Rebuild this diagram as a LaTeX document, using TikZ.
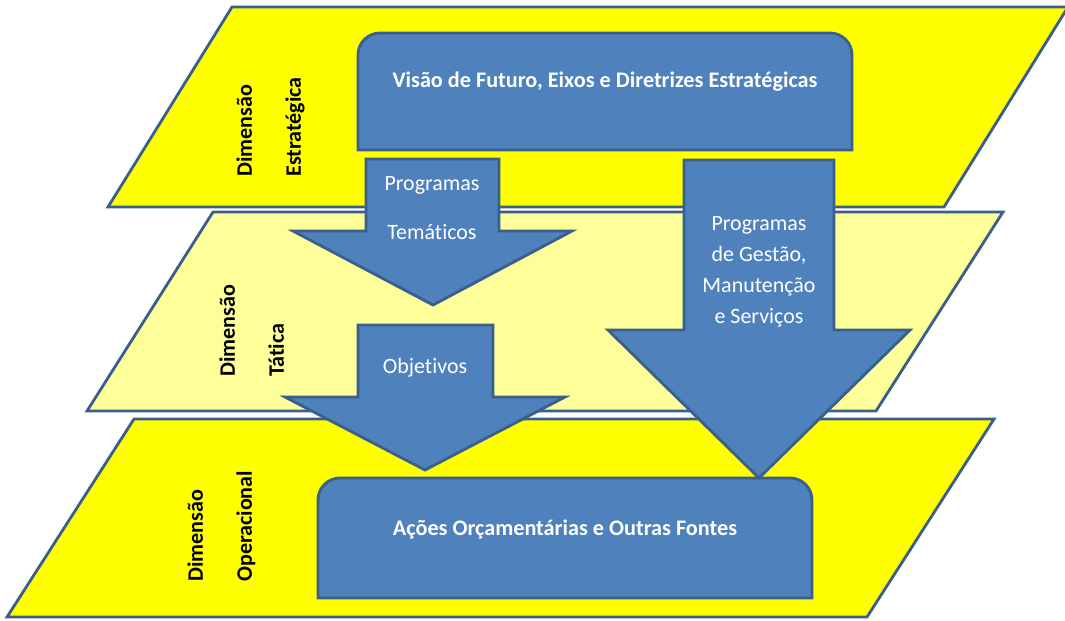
\documentclass[tikz,border=0pt]{standalone}
\usepackage{fontspec}
\setmainfont{Carlito}[Ligatures=NoCommon]
\usepackage{xcolor}
\usepackage{tikz}
\usetikzlibrary{positioning}
\definecolor{layerStrong}{HTML}{FFFF00}
\definecolor{layerPale}{HTML}{FFFF99}
\definecolor{fillBlue}{HTML}{4F81BD}
\definecolor{borderBlue}{HTML}{3A5F8C}

\begin{document}
\begin{tikzpicture}[
    x=0.025cm, y=-0.025cm,
    plane/.style={draw=borderBlue, fill=#1, line width=2pt, line join=miter},
    block/.style={draw=borderBlue, fill=fillBlue, line width=2pt},
    dimlabel/.style={rotate=90, anchor=north west, inner sep=0pt, align=left,
                     font=\fontsize{15.7}{35}\selectfont\bfseries},
    titlestyle/.style={text=white, font=\fontsize{15.8}{19}\selectfont\bfseries},
    flowtext/.style={text=white, align=center, font=\fontsize{15.6}{#1}\selectfont},
]
\useasboundingbox (0,0) rectangle (1065,620);

% ── Planes ──
\draw[plane=layerStrong] (232,7) -- (1068,7) -- (944,207) -- (108,207) -- cycle;
\draw[plane=layerPale] (213,212) -- (1003,212) -- (876,411) -- (87,411) -- cycle;
\draw[plane=layerStrong] (134,419) -- (994,419) -- (867,617) -- (7,617) -- cycle;

% ── Dimension labels ──
\node[dimlabel] (dimEst) at (236,177) {Dimensão\\Estratégica};
\node[dimlabel] (dimTat) at (219,377) {Dimensão\\Tática};
\node[dimlabel] (dimOpe) at (187,582) {Dimensão\\Operacional};

% ── Boxes ──
\draw[block] (358,150) [rounded corners=0.55cm] -- (358,33) -- (852,33)
    [sharp corners] -- (852,150) -- cycle;
\node[titlestyle] (visao) at (605,82) {Visão de Futuro, Eixos e Diretrizes Estratégicas};

\draw[block] (318,598) [rounded corners=0.55cm] -- (318,478) -- (812,478)
    [sharp corners] -- (812,598) -- cycle;
\node[titlestyle] (acoes) at (565,530) {Ações Orçamentárias e Outras Fontes};

% ── Block arrows ──
\draw[block] (366,159) -- (499,159) -- (499,231) -- (572,231) -- (433,305)
    -- (293,231) -- (366,231) -- cycle;
\node[flowtext=35] (tematicos) at (432,208) {Programas\\Temáticos};

\draw[block] (358,325) -- (493,325) -- (493,397) -- (565,397) -- (425,470)
    -- (285,397) -- (358,397) -- cycle;
\node[flowtext=19] (objetivos) at (425,368) {Objetivos};

\draw[block] (684,160) -- (834,160) -- (834,330) -- (910,330) -- (759,478)
    -- (608,330) -- (684,330) -- cycle;
\node[flowtext=22] (gestao) at (759,272) {Programas\\de Gestão,\\Manutenção\\e Serviços};

\end{tikzpicture}
\end{document}
